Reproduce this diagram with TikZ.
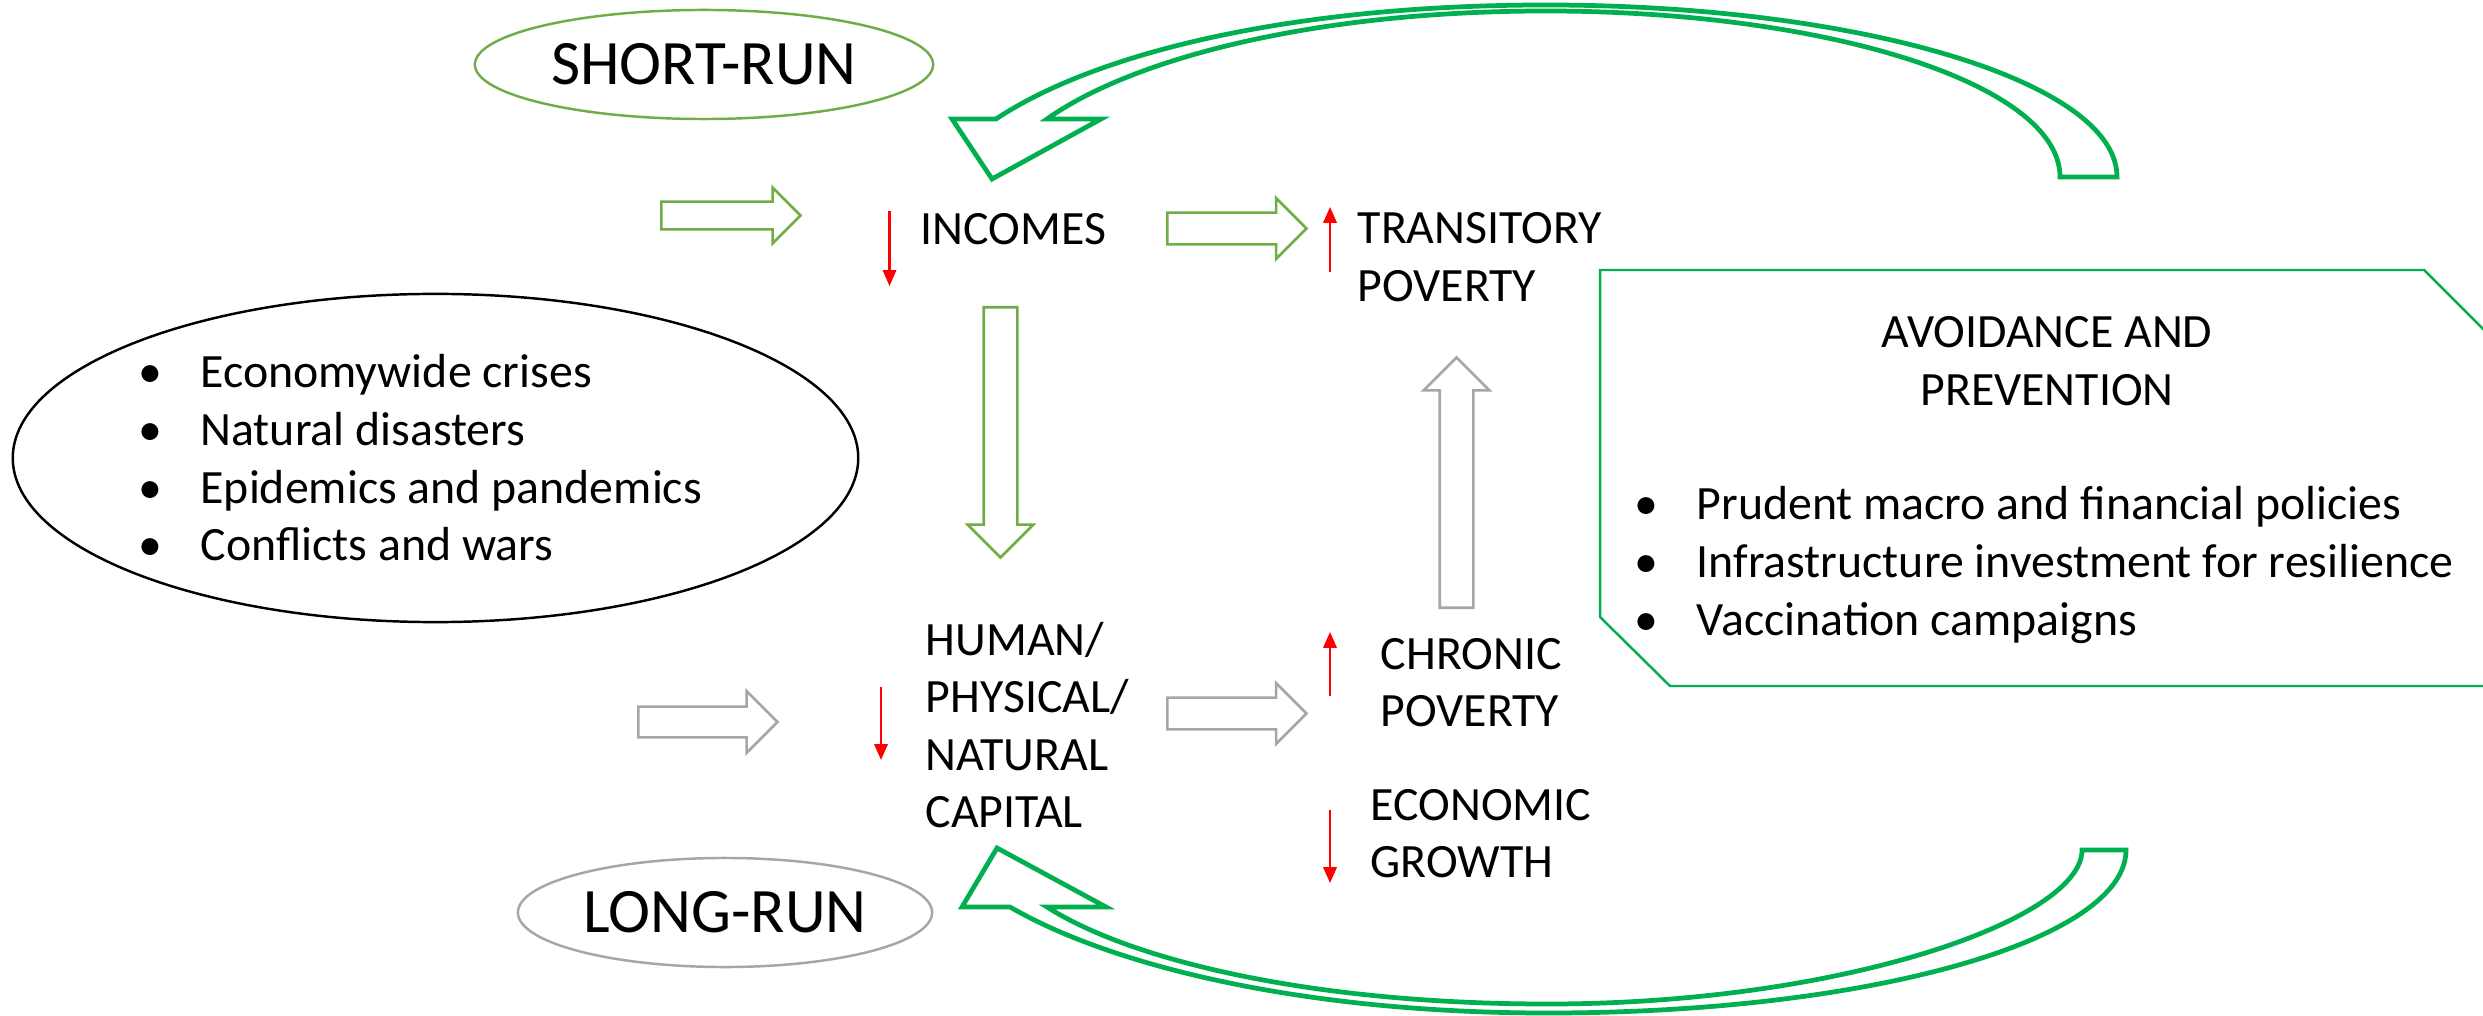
\documentclass[tikz,border=0pt]{standalone}
\usepackage{fontspec}
\setmainfont{Carlito}
\usetikzlibrary{shapes.geometric,shapes.arrows,arrows.meta}
\definecolor{sgreen}{HTML}{70AD47}
\definecolor{dgreen}{HTML}{00B050}
\definecolor{lgray}{HTML}{A6A6A6}
\newcommand\blt{\makebox[17.6pt][l]{\textbullet}}
\begin{document}
\begin{tikzpicture}[x=0.01cm,y=-0.01cm,
  txt/.style={inner sep=0, anchor=base west, font=\fontsize{13.6pt}{16.36pt}\selectfont},
  ctxt/.style={inner sep=0, anchor=base, font=\fontsize{13.6pt}{16.36pt}\selectfont},
  bigtxt/.style={font=\fontsize{18pt}{21pt}\selectfont},
  oval/.style={ellipse, inner sep=0, line width=0.7pt},
  barrow/.style={single arrow, inner xsep=0, line width=0.75pt, anchor=tail, minimum width=1pt, single arrow tip angle=90},
  redarr/.style={draw=red, line width=0.6pt, -{Triangle[length=4.5pt,width=3.8pt]}},
  curved/.style={draw=dgreen, line width=1.35pt, line join=miter},
  pbox/.style={draw=dgreen, line width=0.7pt},
]
\useasboundingbox (0,0) rectangle (2483,1016);
\fill[white] (0,0) rectangle (2483,1016);

% ovals
\node[oval, draw=sgreen, minimum width=4.58cm, minimum height=1.09cm, bigtxt] (short) at (704,64.5) {SHORT-RUN};
\node[oval, draw=lgray, minimum width=4.14cm, minimum height=1.09cm, bigtxt] (long) at (725,912.5) {LONG-RUN};
\node[oval, draw=black, minimum width=8.45cm, minimum height=3.28cm] (crises) at (435.5,458) {};
\node[txt] (crisestxt) at (138,388) {\begin{tabular}[t]{@{}l@{}}\blt Economywide crises\\ \blt Natural disasters\\ \blt Epidemics and pandemics\\ \blt Conflicts and wars\end{tabular}};

% labels
\node[txt] (inc) at (920,245) {INCOMES};
\node[txt] (trans) at (1357,244) {\begin{tabular}[t]{@{}l@{}}TRANSITORY\\POVERTY\end{tabular}};
\node[txt] (human) at (925,655) {\begin{tabular}[t]{@{}l@{}}HUMAN/\\PHYSICAL/\\NATURAL\\CAPITAL\end{tabular}};
\node[txt] (chronic) at (1380,669) {\begin{tabular}[t]{@{}l@{}}CHRONIC\\POVERTY\end{tabular}};
\node[txt] (econ) at (1370,820) {\begin{tabular}[t]{@{}l@{}}ECONOMIC\\GROWTH\end{tabular}};

% prevention box
\begin{scope}
\clip (0,0) rectangle (2483,1016);
\draw[pbox] (1600,270) -- (2424,270) -- (2542,388) -- (2542,686) -- (1670,686) -- (1600,617) -- cycle;
\end{scope}
\node[ctxt] (avoid) at (2047,348) {\begin{tabular}[t]{@{}c@{}}AVOIDANCE AND\\PREVENTION\end{tabular}};
\node[txt] (avoidlist) at (1634,520) {\begin{tabular}[t]{@{}l@{}}\blt Prudent macro and financial policies\\ \blt Infrastructure investment for resilience\\ \blt Vaccination campaigns\end{tabular}};

% block arrows
\node[barrow, draw=sgreen, inner ysep=0.125cm, single arrow head extend=0.14cm, minimum height=1.39cm] (bA) at (660,215.5) {};
\node[barrow, draw=sgreen, inner ysep=0.145cm, single arrow head extend=0.145cm, minimum height=1.39cm] (bB) at (1166,228.5) {};
\node[barrow, draw=lgray, inner ysep=0.14cm, single arrow head extend=0.155cm, minimum height=1.39cm] (bC) at (637,722) {};
\node[barrow, draw=lgray, inner ysep=0.145cm, single arrow head extend=0.145cm, minimum height=1.39cm] (bD) at (1166,713.5) {};
\node[barrow, draw=sgreen, inner ysep=0.155cm, single arrow head extend=0.16cm, minimum height=2.5cm, rotate=-90] (bE) at (1000.5,306) {};
\node[barrow, draw=lgray, inner ysep=0.155cm, single arrow head extend=0.16cm, minimum height=2.5cm, rotate=90] (bF) at (1456.5,609) {};

% red arrows
\coordinate (r1a) at (889.5,211); \coordinate (r1b) at (889.5,286);
\coordinate (r2a) at (1330,272);  \coordinate (r2b) at (1330,207);
\coordinate (r3a) at (881,687);   \coordinate (r3b) at (881,760);
\coordinate (r4a) at (1330,696);  \coordinate (r4b) at (1330,632);
\coordinate (r5a) at (1330,810);  \coordinate (r5b) at (1330,883);
\draw[redarr] (r1a) -- (r1b);
\draw[redarr] (r2a) -- (r2b);
\draw[redarr] (r3a) -- (r3b);
\draw[redarr] (r4a) -- (r4b);
\draw[redarr] (r5a) -- (r5b);

% top curved arrow
\draw[curved] (2117,177) .. controls (2117,82) and (1861,5) .. (1546,5)
  .. controls (1300,5) and (1100,50) .. (996,119)
  -- (952,119) -- (992,179) -- (1101,119) -- (1047,119)
  .. controls (1130,60) and (1310,11) .. (1546,11)
  .. controls (1830,11) and (2060,85) .. (2060,177) -- cycle;

% bottom curved arrow
\draw[curved] (2126,850) .. controls (2126,940) and (1870,1013) .. (1548,1013)
  .. controls (1300,1013) and (1110,965) .. (1010,907)
  -- (962,907) -- (997,848) -- (1106,907) -- (1047,907)
  .. controls (1130,960) and (1310,1004) .. (1548,1004)
  .. controls (1840,1004) and (2082,920) .. (2082,850) -- cycle;
\end{tikzpicture}
\end{document}
